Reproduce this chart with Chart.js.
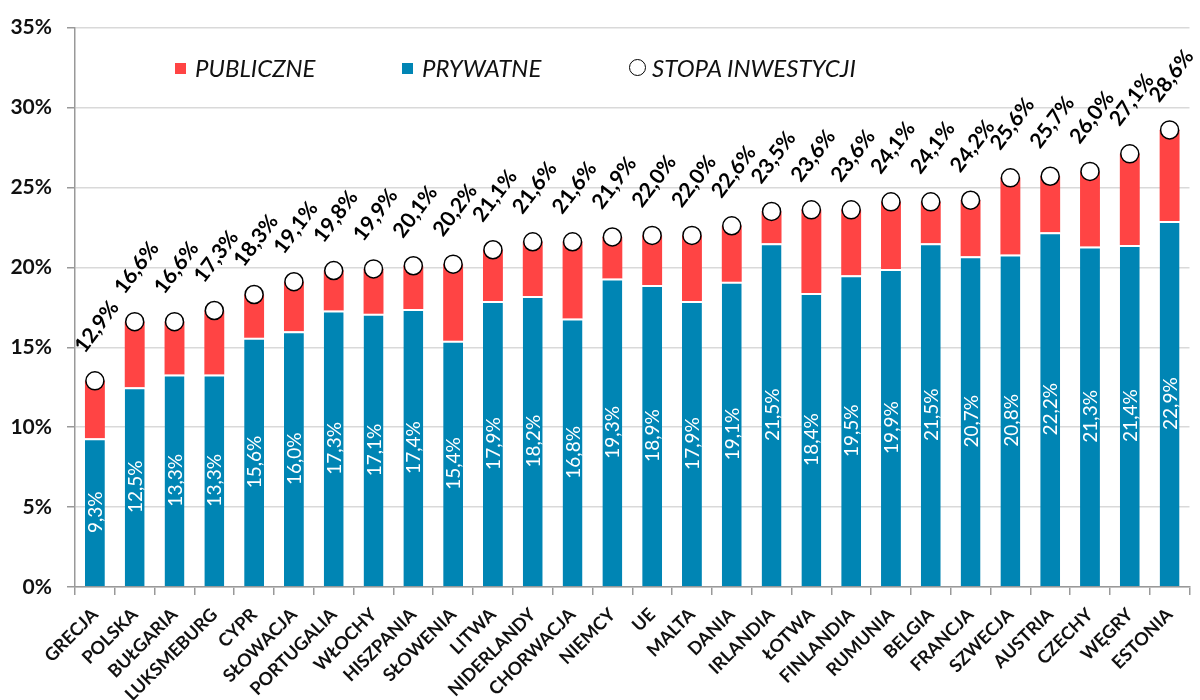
<!DOCTYPE html>
<html>
<head>
<meta charset="utf-8">
<script src="https://cdn.jsdelivr.net/npm/chart.js@4.4.1/dist/chart.umd.min.js"></script>
<style>
  body { margin: 0; background: #fff; }
  #wrap { position: relative; width: 1200px; height: 700px; }
  .legend { position: absolute; top: 52px; left: 0; font-family: Lato, sans-serif; font-style: italic; font-size: 24px; color: #111; }
  .item { position: absolute; top: 0; white-space: nowrap; line-height: 32px; }
  .sq { position: absolute; top: 11px; width: 11px; height: 11px; }
  .dot { position: absolute; top: 7px; width: 15px; height: 15px; border: 1.5px solid #000; border-radius: 50%; background: #fff; }
</style>
</head>
<body>
<div id="wrap">
  <canvas id="chart" width="1200" height="700"></canvas>
  <div class="legend">
    <div class="item" style="left:175px"><span class="sq" style="left:0;background:#ff4444"></span><span style="margin-left:20px">PUBLICZNE</span></div>
    <div class="item" style="left:402px"><span class="sq" style="left:0;background:#0085b4"></span><span style="margin-left:20px">PRYWATNE</span></div>
    <div class="item" style="left:629px"><span class="dot" style="left:0"></span><span style="margin-left:23px">STOPA INWESTYCJI</span></div>
  </div>
</div>
<script>
const categories = ["GRECJA", "POLSKA", "BUŁGARIA", "LUKSMEBURG", "CYPR", "SŁOWACJA", "PORTUGALIA", "WŁOCHY",
  "HISZPANIA", "SŁOWENIA", "LITWA", "NIDERLANDY", "CHORWACJA", "NIEMCY", "UE", "MALTA", "DANIA", "IRLANDIA",
  "ŁOTWA", "FINLANDIA", "RUMUNIA", "BELGIA", "FRANCJA", "SZWECJA", "AUSTRIA", "CZECHY", "WĘGRY", "ESTONIA"];
const privateValues = [9.3, 12.5, 13.3, 13.3, 15.6, 16.0, 17.3, 17.1, 17.4, 15.4, 17.9, 18.2, 16.8, 19.3,
  18.9, 17.9, 19.1, 21.5, 18.4, 19.5, 19.9, 21.5, 20.7, 20.8, 22.2, 21.3, 21.4, 22.9];
const publicValues = [3.6, 4.1, 3.3, 4.0, 2.7, 3.1, 2.5, 2.8, 2.7, 4.8, 3.2, 3.4, 4.8, 2.6,
  3.1, 4.1, 3.5, 2.0, 5.2, 4.1, 4.2, 2.6, 3.5, 4.8, 3.5, 4.7, 5.7, 5.7];
const totalValues = [12.9, 16.6, 16.6, 17.3, 18.3, 19.1, 19.8, 19.9, 20.1, 20.2, 21.1, 21.6, 21.6, 21.9,
  22.0, 22.0, 22.6, 23.5, 23.6, 23.6, 24.1, 24.1, 24.2, 25.6, 25.7, 26.0, 27.1, 28.6];
const yMax = 35;
const yStep = 5;

const fmt = v => v.toFixed(1).replace(".", ",") + "%";

// value labels: white vertical ones inside blue bars, black slanted ones above the circles
const labelPlugin = {
  id: "valueLabels",
  afterDatasetsDraw(chart) {
    const ctx = chart.ctx;
    chart.getDatasetMeta(0).data.forEach((bar, i) => {
      const p = bar.getProps(["x", "y", "base"], true);
      ctx.save();
      ctx.translate(p.x + 1, (p.y + p.base) / 2);
      ctx.rotate(-Math.PI / 2);
      ctx.fillStyle = "#fff";
      ctx.font = "19px Lato";
      ctx.textAlign = "center";
      ctx.textBaseline = "middle";
      ctx.fillText(fmt(privateValues[i]), 0, 0);
      ctx.restore();
    });
    chart.getDatasetMeta(2).data.forEach((pt, i) => {
      ctx.save();
      ctx.translate(pt.x + 2, pt.y - 54);
      ctx.rotate(-53 * Math.PI / 180);
      ctx.fillStyle = "#000";
      ctx.font = "bold 21px Lato";
      ctx.textAlign = "center";
      ctx.textBaseline = "middle";
      ctx.fillText(fmt(totalValues[i]), 0, 0);
      ctx.restore();
    });
  }
};

new Chart(document.getElementById("chart"), {
  type: "bar",
  data: {
    labels: categories,
    datasets: [
      {
        label: "PRYWATNE",
        data: privateValues,
        backgroundColor: "#0085b4",
        borderColor: "#fff",
        borderWidth: { top: 2, right: 0, bottom: 0, left: 0 },
        order: 2
      },
      {
        label: "PUBLICZNE",
        data: publicValues,
        backgroundColor: "#ff4444",
        borderWidth: 0,
        order: 3
      },
      {
        type: "line",
        label: "STOPA INWESTYCJI",
        data: totalValues,
        showLine: false,
        stack: "total",
        pointRadius: 9,
        pointBackgroundColor: "#fff",
        pointBorderColor: "#000",
        pointBorderWidth: 1.5,
        order: 0
      }
    ]
  },
  options: {
    responsive: false,
    animation: false,
    layout: { padding: { top: 23, right: 0, left: 0, bottom: 0 } },
    datasets: { bar: { categoryPercentage: 1, barPercentage: 0.5 } },
    plugins: { legend: { display: false }, tooltip: { enabled: false } },
    scales: {
      x: {
        stacked: true,
        grid: { drawOnChartArea: false, offset: true, tickLength: 8, tickColor: "#999", lineWidth: 1.5 },
        border: { color: "#999", width: 1.5 },
        ticks: { maxRotation: 45, minRotation: 45, padding: 9, color: "#111", font: { family: "Lato", weight: "bold", size: 18 } },
        afterFit(scale) { scale.height = 700 - 23 - 564; }
      },
      y: {
        stacked: true,
        min: 0,
        max: yMax,
        grid: { color: "#d9d9d9", lineWidth: 1.5, tickLength: 8, tickColor: "#999" },
        border: { color: "#999", width: 1.5 },
        ticks: { stepSize: yStep, padding: 15, color: "#111", font: { family: "Lato", weight: "bold", size: 21 }, callback: v => v + "%" },
        afterFit(scale) { scale.width = 75; }
      }
    }
  },
  plugins: [labelPlugin]
});
</script>
</body>
</html>
